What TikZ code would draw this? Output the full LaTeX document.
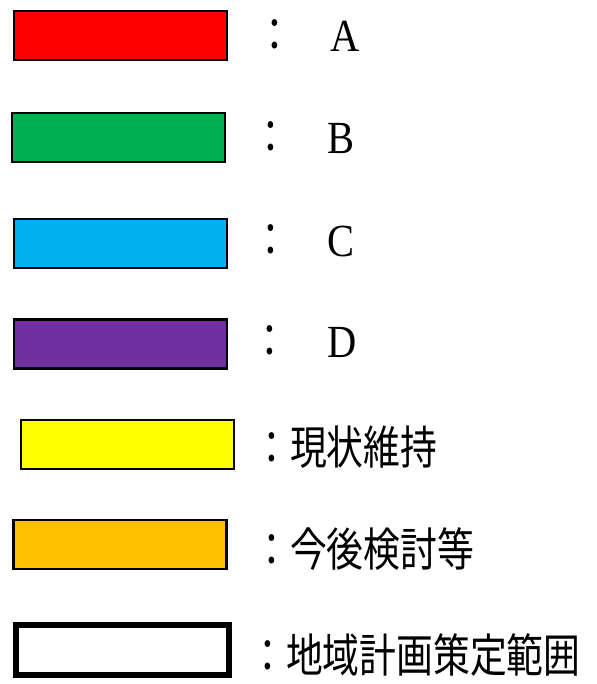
\documentclass[tikz,border=0pt]{standalone}
\usepackage{fontspec}
\usepackage{graphicx}
\setmainfont{Liberation Serif}
\newfontfamily\jpfont{Noto Sans CJK JP}
\definecolor{keyred}{HTML}{FF0000}
\definecolor{keygreen}{HTML}{00B050}
\definecolor{keycyan}{HTML}{00B0F0}
\definecolor{keypurple}{HTML}{7030A0}
\definecolor{keyyellow}{HTML}{FFFF00}
\definecolor{keyorange}{HTML}{FFC000}
\newcommand{\narrow}[2][0.8]{\scalebox{#1}[1]{#2}}
\begin{document}
\begin{tikzpicture}[x=1pt,y=-1pt,
  swatch/.style={draw=black,line width=2.5pt,minimum width=213pt,minimum height=49pt,inner sep=0pt},
  keytext/.style={font=\fontsize{46}{46}\selectfont,inner sep=0pt}]
\useasboundingbox (0,0) rectangle (596,684);
\node[swatch,fill=keyred] (b0) at (120.5,35.5) {};
\node[swatch,fill=keygreen] (b1) at (118.5,137.5) {};
\node[swatch,fill=keycyan] (b2) at (120.5,243.5) {};
\node[swatch,fill=keypurple] (b3) at (120.5,344) {};
\node[swatch,fill=keyyellow] (b4) at (127.5,444.5) {};
\node[swatch,fill=keyorange] (b5) at (120,544.5) {};
\node[swatch,fill=white,line width=6pt,minimum height=50pt] (b6) at (122.5,650) {};
\node[keytext,anchor=base] (c0) at (275,52) {\jpfont\narrow{：}};
\node[keytext,anchor=base] (c1) at (271,154) {\jpfont\narrow{：}};
\node[keytext,anchor=base] (c2) at (271,256) {\jpfont\narrow{：}};
\node[keytext,anchor=base] (c3) at (270,357) {\jpfont\narrow{：}};
\node[keytext,anchor=base] (l0) at (345.5,52) {\narrow[0.88]{A}};
\node[keytext,anchor=base] (l1) at (341,154) {\narrow[0.88]{B}};
\node[keytext,anchor=base] (l2) at (341,256) {\narrow[0.88]{C}};
\node[keytext,anchor=base] (l3) at (342,357) {\narrow[0.88]{D}};
\node[keytext,anchor=base west] (l4) at (253,464) {\jpfont\narrow{：現状維持}};
\node[keytext,anchor=base west] (l5) at (253,566) {\jpfont\narrow{：今後検討等}};
\node[keytext,anchor=base west] (l6) at (249,672) {\jpfont\narrow{：地域計画策定範囲}};
\end{tikzpicture}
\end{document}
